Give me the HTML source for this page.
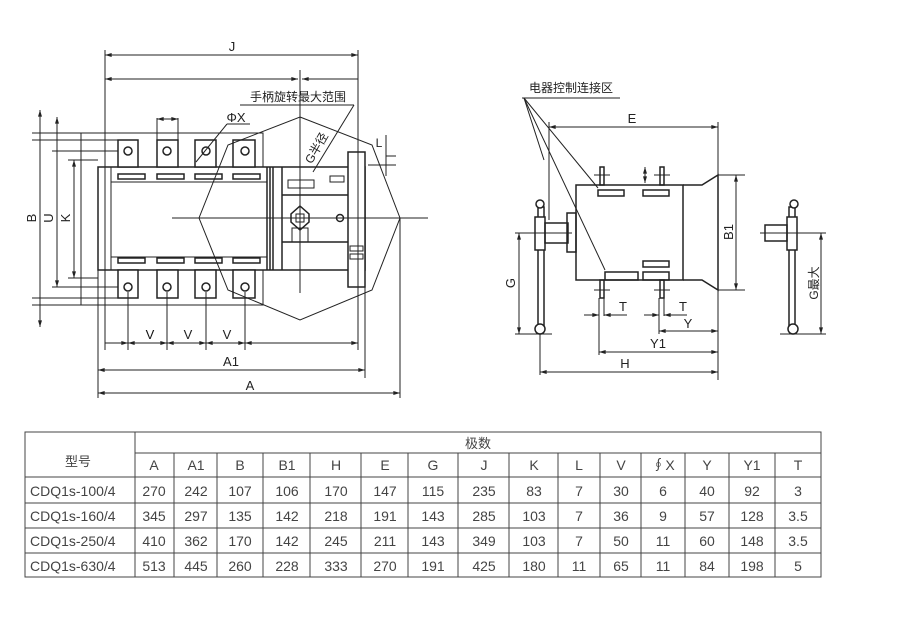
<!DOCTYPE html>
<html><head><meta charset="utf-8"><style>
body{margin:0;background:#fff;width:900px;height:617px;overflow:hidden;font-family:"Liberation Sans","Noto Sans CJK SC",sans-serif}
svg{position:absolute;left:0;top:0}
</style></head><body>
<svg width="900" height="617" viewBox="0 0 900 617" xmlns="http://www.w3.org/2000/svg" font-family="Liberation Sans, Noto Sans CJK SC, sans-serif">
<defs><marker id="a" viewBox="0 0 10 6" refX="10" refY="3" markerWidth="7" markerHeight="4" orient="auto-start-reverse"><path d="M0,0L10,3L0,6z" fill="#222"/></marker></defs>
<g stroke="#222" fill="none" stroke-width="1">
<!-- left drawing -->
<rect x="81" y="133" width="182" height="172"/>
<rect x="98" y="167" width="267" height="103" fill="#fff" stroke-width="1.5"/>
<rect x="111" y="182" width="156" height="75"/>
<line x1="111" y1="167" x2="111" y2="270"/>
<g stroke-width="1.5">
<line x1="267" y1="167" x2="267" y2="270"/><line x1="270" y1="167" x2="270" y2="270"/><line x1="273" y1="167" x2="273" y2="270"/><line x1="282" y1="167" x2="282" y2="270"/>
<line x1="282" y1="195" x2="348" y2="195"/><line x1="282" y1="242" x2="348" y2="242"/>
<rect x="348" y="152" width="17" height="135" fill="#fff"/>
</g>
<rect x="288" y="180" width="26" height="8"/><rect x="330" y="176" width="14" height="6"/>
<rect x="292" y="228" width="16" height="14"/>
<path d="M300,206 L309,214 L309,222 L300,230 L291,222 L291,214Z" stroke-width="1.5"/>
<rect x="296" y="214" width="8" height="8"/>
<circle cx="340" cy="218" r="3.5" stroke-width="1.5"/>
<rect x="350" y="246" width="13" height="5"/><rect x="350" y="254" width="13" height="5"/>
<g fill="#fff" stroke-width="1.5">
<rect x="118" y="140" width="20" height="27"/><rect x="157" y="140" width="21" height="27"/><rect x="195" y="140" width="21" height="27"/><rect x="233" y="140" width="22" height="27"/>
<rect x="118" y="270" width="20" height="28"/><rect x="157" y="270" width="21" height="28"/><rect x="195" y="270" width="21" height="28"/><rect x="233" y="270" width="22" height="28"/>
</g>
<g stroke-width="1.5">
<circle cx="128" cy="151" r="4"/><circle cx="167" cy="151" r="4"/><circle cx="206" cy="151" r="4"/><circle cx="245" cy="151" r="4"/>
<circle cx="128" cy="287" r="4"/><circle cx="167" cy="287" r="4"/><circle cx="206" cy="287" r="4"/><circle cx="245" cy="287" r="4"/>
<rect x="118" y="174" width="27" height="5"/><rect x="157" y="174" width="27" height="5"/><rect x="195" y="174" width="27" height="5"/><rect x="233" y="174" width="27" height="5"/>
<rect x="118" y="258" width="27" height="5"/><rect x="157" y="258" width="27" height="5"/><rect x="195" y="258" width="27" height="5"/><rect x="233" y="258" width="27" height="5"/>
</g>
<path d="M300,117 L372,145 L400,218 L372,290 L300,320 L228,290 L199,218 L228,145Z"/>
<line x1="172" y1="218" x2="428" y2="218"/><line x1="300" y1="70" x2="300" y2="293"/>
<line x1="105" y1="50" x2="105" y2="350"/><line x1="358" y1="50" x2="358" y2="350"/>
<line x1="105" y1="55" x2="358" y2="55" marker-start="url(#a)" marker-end="url(#a)"/>
<line x1="105" y1="79" x2="298" y2="79" marker-start="url(#a)" marker-end="url(#a)"/>
<line x1="302" y1="79" x2="358" y2="79" marker-start="url(#a)"/>
<line x1="240" y1="105" x2="354" y2="105"/><line x1="354" y1="105" x2="313" y2="172"/>
<line x1="157" y1="118" x2="157" y2="140"/><line x1="178" y1="118" x2="178" y2="140"/><line x1="157" y1="119" x2="178" y2="119" marker-start="url(#a)" marker-end="url(#a)"/>
<line x1="196" y1="162" x2="227" y2="124"/><line x1="227" y1="124" x2="250" y2="124"/>
<line x1="40" y1="110" x2="40" y2="327" marker-start="url(#a)" marker-end="url(#a)"/>
<line x1="57" y1="117" x2="57" y2="287" marker-start="url(#a)" marker-end="url(#a)"/>
<line x1="74" y1="160" x2="74" y2="278" marker-start="url(#a)" marker-end="url(#a)"/>
<line x1="32" y1="133" x2="81" y2="133"/><line x1="32" y1="305" x2="81" y2="305"/>
<line x1="32" y1="140" x2="118" y2="140"/><line x1="32" y1="298" x2="118" y2="298"/>
<line x1="52" y1="151" x2="118" y2="151"/><line x1="52" y1="287" x2="118" y2="287"/>
<line x1="68" y1="160" x2="98" y2="160"/><line x1="68" y1="278" x2="98" y2="278"/>
<line x1="386" y1="156" x2="396" y2="156"/><line x1="368" y1="165" x2="396" y2="165"/><line x1="386" y1="135" x2="386" y2="176"/>
<g stroke-width="1">
<line x1="98" y1="270" x2="98" y2="398"/><line x1="365" y1="280" x2="365" y2="378"/><line x1="400" y1="218" x2="400" y2="398"/>
<line x1="128" y1="292" x2="128" y2="350"/><line x1="167" y1="292" x2="167" y2="350"/><line x1="206" y1="292" x2="206" y2="350"/><line x1="245" y1="292" x2="245" y2="350"/>
</g>
<line x1="105" y1="343" x2="128" y2="343" marker-end="url(#a)"/><line x1="128" y1="343" x2="167" y2="343" marker-start="url(#a)" marker-end="url(#a)"/><line x1="167" y1="343" x2="206" y2="343" marker-start="url(#a)" marker-end="url(#a)"/><line x1="206" y1="343" x2="245" y2="343" marker-start="url(#a)" marker-end="url(#a)"/><line x1="245" y1="343" x2="358" y2="343" marker-start="url(#a)" marker-end="url(#a)"/>
<line x1="98" y1="370" x2="365" y2="370" marker-start="url(#a)" marker-end="url(#a)"/>
<line x1="98" y1="393" x2="400" y2="393" marker-start="url(#a)" marker-end="url(#a)"/>
<!-- right drawing -->
<rect x="576" y="185" width="107" height="95" stroke-width="1.5"/>
<path d="M683,185 L702,185 L718,175 L718,290 L702,280 L683,280" stroke-width="1.5"/>
<g stroke-width="1.5">
<rect x="598" y="190" width="26" height="6"/><rect x="643" y="190" width="26" height="6"/>
<rect x="643" y="261" width="26" height="6"/><rect x="605" y="272" width="33" height="8"/><rect x="643" y="272" width="26" height="8"/>
<rect x="600" y="167" width="4" height="18"/><rect x="660" y="167" width="4" height="18"/>
<rect x="600" y="280" width="4" height="18"/><rect x="660" y="280" width="4" height="18"/>
</g>
<line x1="594" y1="175" x2="610" y2="175"/><line x1="654" y1="175" x2="670" y2="175"/><line x1="594" y1="290" x2="610" y2="290"/><line x1="654" y1="290" x2="670" y2="290"/>
<line x1="645" y1="167" x2="645" y2="183" marker-start="url(#a)" marker-end="url(#a)"/>
<rect x="538" y="207" width="6" height="121" stroke-width="1.5"/>
<rect x="535" y="217" width="10" height="33" fill="#fff" stroke-width="1.5"/>
<rect x="545" y="223" width="23" height="20" stroke-width="1.5"/>
<rect x="567" y="213" width="9" height="39" stroke-width="1.5"/>
<circle cx="540" cy="204" r="4" fill="#fff" stroke-width="1.5"/><circle cx="540" cy="329" r="5" fill="#fff" stroke-width="1.5"/>
<line x1="515" y1="233" x2="572" y2="233"/><line x1="515" y1="334" x2="552" y2="334"/>
<line x1="519" y1="233" x2="519" y2="334" marker-start="url(#a)" marker-end="url(#a)"/>
<line x1="549" y1="122" x2="549" y2="220"/><line x1="718" y1="122" x2="718" y2="380"/>
<line x1="549" y1="127" x2="718" y2="127" marker-start="url(#a)" marker-end="url(#a)"/>
<line x1="718" y1="175" x2="745" y2="175"/><line x1="718" y1="290" x2="745" y2="290"/>
<line x1="736" y1="175" x2="736" y2="290" marker-start="url(#a)" marker-end="url(#a)"/>
<line x1="522" y1="98" x2="620" y2="98"/>
<line x1="524" y1="98" x2="598" y2="188"/><line x1="524" y1="98" x2="605" y2="270"/><line x1="524" y1="98" x2="544" y2="160"/>
<line x1="599" y1="298" x2="599" y2="355"/><line x1="604" y1="298" x2="604" y2="316"/><line x1="659" y1="298" x2="659" y2="334"/><line x1="664" y1="298" x2="664" y2="316"/><line x1="540" y1="334" x2="540" y2="375"/>
<line x1="584" y1="315" x2="599" y2="315" marker-end="url(#a)"/><line x1="604" y1="315" x2="627" y2="315" marker-start="url(#a)"/>
<line x1="644" y1="315" x2="659" y2="315" marker-end="url(#a)"/><line x1="664" y1="315" x2="687" y2="315" marker-start="url(#a)"/>
<line x1="659" y1="331" x2="718" y2="331" marker-start="url(#a)" marker-end="url(#a)"/>
<line x1="599" y1="352" x2="718" y2="352" marker-start="url(#a)" marker-end="url(#a)"/>
<line x1="540" y1="372" x2="718" y2="372" marker-start="url(#a)" marker-end="url(#a)"/>
<!-- side view -->
<rect x="789" y="207" width="6" height="121" stroke-width="1.5"/>
<rect x="787" y="217" width="10" height="33" fill="#fff" stroke-width="1.5"/>
<rect x="765" y="225" width="22" height="16" stroke-width="1.5"/>
<circle cx="794" cy="204" r="4" fill="#fff" stroke-width="1.5"/><circle cx="793" cy="329" r="5" fill="#fff" stroke-width="1.5"/>
<line x1="760" y1="233" x2="826" y2="233"/><line x1="780" y1="334" x2="826" y2="334"/>
<line x1="821" y1="233" x2="821" y2="334" marker-start="url(#a)" marker-end="url(#a)"/>
</g>
<g font-size="13" fill="#222" text-anchor="middle">
<text x="232" y="51">J</text>
<text x="298" y="101" font-size="12">手柄旋转最大范围</text>
<text x="236" y="122">ΦX</text>
<text x="150" y="339" fill="#111">V</text><text x="188" y="339">V</text><text x="227" y="339">V</text>
<text x="231" y="366">A1</text><text x="250" y="390">A</text>
<text transform="translate(36,218) rotate(-90)">B</text>
<text transform="translate(53,218) rotate(-90)">U</text>
<text transform="translate(70,218) rotate(-90)">K</text>
<text transform="translate(320,150) rotate(-60)" font-size="12">G半径</text>
<text x="379" y="147" font-size="12">L</text>
<text x="571" y="92" font-size="12">电器控制连接区</text>
<text x="632" y="123">E</text>
<text transform="translate(733,232) rotate(-90)">B1</text>
<text transform="translate(515,283) rotate(-90)">G</text>
<text transform="translate(818,283) rotate(-90)" font-size="12">G最大</text>
<text x="623" y="311">T</text><text x="683" y="311">T</text>
<text x="688" y="328">Y</text><text x="658" y="348">Y1</text><text x="625" y="368">H</text>
</g>
<!-- table -->
<g stroke="#444" fill="none" stroke-width="1">
<rect x="25" y="432" width="796" height="145"/>
<line x1="135" y1="432" x2="135" y2="577"/>
<line x1="135" y1="453" x2="821" y2="453"/>
<line x1="25" y1="477" x2="821" y2="477"/><line x1="25" y1="503" x2="821" y2="503"/><line x1="25" y1="528" x2="821" y2="528"/><line x1="25" y1="553" x2="821" y2="553"/>
<g id="v"><line x1="174" y1="453" x2="174" y2="577"/><line x1="217" y1="453" x2="217" y2="577"/><line x1="263" y1="453" x2="263" y2="577"/><line x1="310" y1="453" x2="310" y2="577"/><line x1="361" y1="453" x2="361" y2="577"/><line x1="408" y1="453" x2="408" y2="577"/><line x1="458" y1="453" x2="458" y2="577"/><line x1="509" y1="453" x2="509" y2="577"/><line x1="558" y1="453" x2="558" y2="577"/><line x1="600" y1="453" x2="600" y2="577"/><line x1="641" y1="453" x2="641" y2="577"/><line x1="685" y1="453" x2="685" y2="577"/><line x1="729" y1="453" x2="729" y2="577"/><line x1="775" y1="453" x2="775" y2="577"/></g>
</g>
<g font-size="14" fill="#444" text-anchor="middle">
<text x="478" y="448" font-size="13">极数</text>
<text x="78" y="466" font-size="13">型号</text>
<g>
<text x="154" y="470">A</text><text x="196" y="470">A1</text><text x="240" y="470">B</text><text x="287" y="470">B1</text><text x="336" y="470">H</text><text x="385" y="470">E</text><text x="433" y="470">G</text><text x="484" y="470">J</text><text x="534" y="470">K</text><text x="579" y="470">L</text><text x="621" y="470">V</text><text x="663" y="470">∮X</text><text x="707" y="470">Y</text><text x="752" y="470">Y1</text><text x="798" y="470">T</text>
</g>
<g text-anchor="start"><text x="30" y="496">CDQ1s-100/4</text><text x="30" y="521">CDQ1s-160/4</text><text x="30" y="546">CDQ1s-250/4</text><text x="30" y="571">CDQ1s-630/4</text></g>
<text x="154" y="496">270</text><text x="196" y="496">242</text><text x="240" y="496">107</text><text x="287" y="496">106</text><text x="336" y="496">170</text><text x="385" y="496">147</text><text x="433" y="496">115</text><text x="484" y="496">235</text><text x="534" y="496">83</text><text x="579" y="496">7</text><text x="621" y="496">30</text><text x="663" y="496">6</text><text x="707" y="496">40</text><text x="752" y="496">92</text><text x="798" y="496">3</text>
<text x="154" y="521">345</text><text x="196" y="521">297</text><text x="240" y="521">135</text><text x="287" y="521">142</text><text x="336" y="521">218</text><text x="385" y="521">191</text><text x="433" y="521">143</text><text x="484" y="521">285</text><text x="534" y="521">103</text><text x="579" y="521">7</text><text x="621" y="521">36</text><text x="663" y="521">9</text><text x="707" y="521">57</text><text x="752" y="521">128</text><text x="798" y="521">3.5</text>
<text x="154" y="546">410</text><text x="196" y="546">362</text><text x="240" y="546">170</text><text x="287" y="546">142</text><text x="336" y="546">245</text><text x="385" y="546">211</text><text x="433" y="546">143</text><text x="484" y="546">349</text><text x="534" y="546">103</text><text x="579" y="546">7</text><text x="621" y="546">50</text><text x="663" y="546">11</text><text x="707" y="546">60</text><text x="752" y="546">148</text><text x="798" y="546">3.5</text>
<text x="154" y="571">513</text><text x="196" y="571">445</text><text x="240" y="571">260</text><text x="287" y="571">228</text><text x="336" y="571">333</text><text x="385" y="571">270</text><text x="433" y="571">191</text><text x="484" y="571">425</text><text x="534" y="571">180</text><text x="579" y="571">11</text><text x="621" y="571">65</text><text x="663" y="571">11</text><text x="707" y="571">84</text><text x="752" y="571">198</text><text x="798" y="571">5</text>
</g>
</svg>
</body></html>
